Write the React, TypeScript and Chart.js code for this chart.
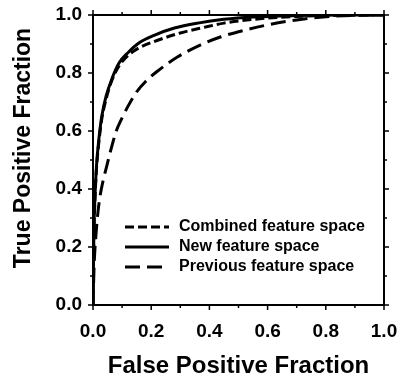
import React, { useEffect, useRef } from "react";
import { Chart, registerables } from "chart.js";

Chart.register(...registerables);

const combFpr = [0, 0.003, 0.007, 0.012, 0.02, 0.03, 0.045, 0.065, 0.09, 0.12, 0.155, 0.22, 0.3, 0.38, 0.45, 0.55, 0.7, 0.85, 1.0];
const combTpr = [0, 0.24, 0.37, 0.47, 0.56, 0.64, 0.71, 0.775, 0.825, 0.86, 0.885, 0.912, 0.938, 0.957, 0.972, 0.985, 0.995, 0.999, 1.0];

const newFpr = [0, 0.003, 0.007, 0.012, 0.02, 0.03, 0.045, 0.065, 0.09, 0.12, 0.16, 0.21, 0.28, 0.36, 0.45, 0.55, 0.7, 0.85, 1.0];
const newTpr = [0, 0.25, 0.38, 0.48, 0.57, 0.65, 0.72, 0.78, 0.835, 0.87, 0.905, 0.93, 0.955, 0.972, 0.985, 0.993, 0.998, 1.0, 1.0];

const prevFpr = [0, 0.004, 0.01, 0.017, 0.025, 0.035, 0.045, 0.06, 0.08, 0.1, 0.12, 0.15, 0.18, 0.22, 0.29, 0.37, 0.44, 0.5, 0.6, 0.7, 0.8, 0.9, 1.0];
const prevTpr = [0, 0.14, 0.24, 0.32, 0.38, 0.43, 0.47, 0.53, 0.6, 0.645, 0.685, 0.735, 0.77, 0.805, 0.855, 0.897, 0.925, 0.942, 0.966, 0.983, 0.994, 0.999, 1.0];

const seriesLabels = ["Combined feature space", "New feature space", "Previous feature space"];
const seriesDashes: number[][] = [[9, 4], [], [15, 7]];
const xTitle = "False Positive Fraction";
const yTitle = "True Positive Fraction";
const FONT = "'Liberation Sans', Arial, Helvetica, sans-serif";

const toPts = (xs: number[], ys: number[]) => xs.map((x, i) => ({ x, y: ys[i] }));

const framePlugin = {
  id: "frame",
  afterDraw(chart: any) {
    const { ctx, chartArea: a, scales } = chart;
    const xs = scales.x, ys = scales.y;
    ctx.save();
    ctx.strokeStyle = "#000";
    ctx.lineWidth = 2;
    ctx.setLineDash([]);
    ctx.strokeRect(a.left, a.top, a.right - a.left, a.bottom - a.top);
    ctx.lineWidth = 1.5;
    for (let i = 0; i <= 10; i++) {
      const v = i / 10;
      const len = i % 2 === 0 ? 5 : 3;
      const px = xs.getPixelForValue(v);
      const py = ys.getPixelForValue(v);
      ctx.beginPath();
      ctx.moveTo(px, a.bottom); ctx.lineTo(px, a.bottom + len);
      ctx.moveTo(px, a.top); ctx.lineTo(px, a.top - len);
      ctx.moveTo(a.left, py); ctx.lineTo(a.left - len, py);
      ctx.moveTo(a.right, py); ctx.lineTo(a.right + len, py);
      ctx.stroke();
    }
    // y axis title
    ctx.save();
    ctx.translate(24, 148);
    ctx.rotate(-Math.PI / 2);
    ctx.font = `bold 23px ${FONT}`;
    ctx.fillStyle = "#000";
    ctx.textAlign = "center";
    ctx.textBaseline = "middle";
    ctx.fillText(yTitle, 0, 0);
    ctx.restore();
    // legend
    const lx0 = 125, lx1 = 169, tx = 179;
    const rows = [227, 247, 267];
    ctx.font = `bold 16px ${FONT}`;
    ctx.fillStyle = "#000";
    ctx.textBaseline = "middle";
    ctx.textAlign = "left";
    rows.forEach((ry, i) => {
      ctx.lineWidth = 3;
      ctx.setLineDash(seriesDashes[i]);
      ctx.beginPath();
      ctx.moveTo(lx0, ry);
      ctx.lineTo(lx1, ry);
      ctx.stroke();
      ctx.setLineDash([]);
      ctx.fillText(seriesLabels[i], tx, ry);
    });
    ctx.restore();
  },
};

export default function App() {
  const ref = useRef<HTMLCanvasElement>(null);
  useEffect(() => {
    if (!ref.current) return;
    const data = [toPts(combFpr, combTpr), toPts(newFpr, newTpr), toPts(prevFpr, prevTpr)];
    const chart = new Chart(ref.current, {
      type: "scatter",
      data: {
        datasets: data.map((d, i) => ({
          label: seriesLabels[i],
          data: d,
          showLine: true,
          borderColor: "#000",
          backgroundColor: "#000",
          borderWidth: 3,
          borderDash: seriesDashes[i],
          pointRadius: 0,
          cubicInterpolationMode: "monotone" as const,
          fill: false,
        })),
      },
      options: {
        responsive: false,
        animation: false,
        events: [],
        layout: { padding: { left: 0, right: 16, top: 15, bottom: 0 } },
        plugins: { legend: { display: false }, tooltip: { enabled: false } },
        scales: {
          x: {
            type: "linear",
            min: 0,
            max: 1,
            grid: { display: false, drawTicks: false },
            border: { display: false },
            ticks: {
              stepSize: 0.2,
              padding: 15,
              color: "#000",
              font: { family: FONT, size: 19, weight: "bold" },
              callback: (v: any) => Number(v).toFixed(1),
            },
            title: {
              display: true,
              text: xTitle,
              color: "#000",
              font: { family: FONT, size: 24, weight: "bold" },
              padding: { top: 0, bottom: 2 },
            },
            afterFit: (s: any) => {
              s.height = 78;
              s.paddingLeft = 0;
              s.paddingRight = 0;
            },
          },
          y: {
            type: "linear",
            min: 0,
            max: 1,
            grid: { display: false, drawTicks: false },
            border: { display: false },
            ticks: {
              stepSize: 0.2,
              padding: 11,
              color: "#000",
              font: { family: FONT, size: 19, weight: "bold" },
              callback: (v: any) => Number(v).toFixed(1),
            },
            title: { display: false },
            afterFit: (s: any) => {
              s.width = 93;
              s.paddingTop = 0;
              s.paddingBottom = 0;
            },
          },
        },
      },
      plugins: [framePlugin],
    });
    return () => chart.destroy();
  }, []);
  return (
    <div style={{ position: "fixed", left: 0, top: 0, width: 400, height: 383, background: "#fff" }}>
      <canvas ref={ref} width={400} height={383} />
    </div>
  );
}
